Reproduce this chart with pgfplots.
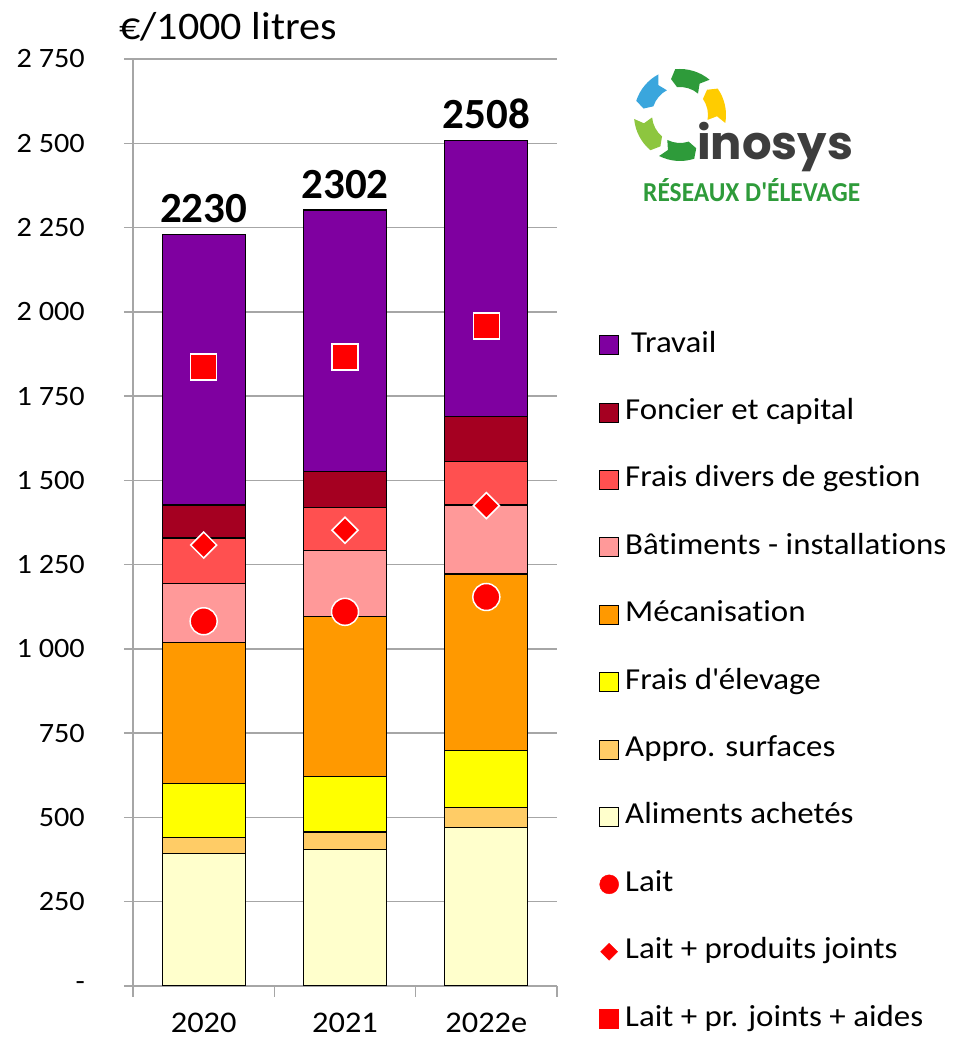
\documentclass[border=0pt]{standalone}
\usepackage{fontspec}
\setmainfont{Carlito}[FakeStretch=1.08, Ligatures=NoCommon]
\newfontfamily\totfont{Carlito}
\newfontfamily\logofont{Poppins}
\usepackage{pgfplots}
\pgfplotsset{compat=1.18}
\definecolor{cTrav}{HTML}{7F00A0}
\definecolor{cFonc}{HTML}{A50021}
\definecolor{cFrais}{HTML}{FF5050}
\definecolor{cBat}{HTML}{FF9999}
\definecolor{cMeca}{HTML}{FF9900}
\definecolor{cElev}{HTML}{FFFF00}
\definecolor{cAppro}{HTML}{FFCC66}
\definecolor{cAlim}{HTML}{FFFFCC}
\definecolor{cGrid}{HTML}{A6A6A6}
\definecolor{lBlue}{HTML}{3AA6DD}
\definecolor{lDkGreen}{HTML}{2E9B3A}
\definecolor{lYellow}{HTML}{FFCC00}
\definecolor{lLtGreen}{HTML}{8DC63F}
\definecolor{lGrey}{HTML}{3D3D3D}
\pgfplotsset{
  sqleg/.style={legend image code/.code={\draw[##1] (0pt,-9.5pt) rectangle (19pt,9.5pt);}},
  mkleg/.style={legend image code/.code={\draw[##1] plot coordinates {(9.5pt,0pt)};}},
  common/.style={
    at={(133pt,55pt)}, anchor=south west, scale only axis,
    width=424pt, height=927pt,
    xmin=-0.5, xmax=2.5, ymin=0, ymax=2750,
  },
}
\begin{document}
\begin{tikzpicture}
\useasboundingbox (0pt,0pt) rectangle (961pt,1041pt);
\begin{axis}[common,
  ybar stacked, bar width=83pt,
  axis x line*=bottom, axis y line*=left,
  axis line style={draw=cGrid, line width=1.5pt},
  ytick={0,250,...,2750},
  yticklabels={-,250,500,750,1 000,1 250,1 500,1 750,2 000,2 250,2 500,2 750},
  ymajorgrids, grid style={draw=cGrid, line width=1.5pt},
  xtick={0,1,2}, xticklabels={2020,2021,2022e},
  minor xtick={-0.5,0.5,1.5,2.5},
  tick align=outside, major tick length=9pt, minor tick length=11pt,
  tick style={draw=cGrid, line width=1.5pt},
  every major x tick/.append style={draw=none},
  yticklabel style={font=\fontsize{28}{32}\selectfont, inner sep=0pt, xshift=-39pt},
  xticklabel style={font=\fontsize{30}{34}\selectfont, inner sep=0pt, yshift=-18pt},
  every axis plot/.append style={draw=black, line width=1.2pt},
]
\addplot[fill=cAlim]  coordinates {(0,392) (1,406) (2,470)};
\addplot[fill=cAppro] coordinates {(0,49) (1,51) (2,59)};
\addplot[fill=cElev]  coordinates {(0,160) (1,165) (2,170)};
\addplot[fill=cMeca]  coordinates {(0,417) (1,474) (2,523)};
\addplot[fill=cBat]   coordinates {(0,177) (1,197) (2,205)};
\addplot[fill=cFrais] coordinates {(0,134) (1,126) (2,128)};
\addplot[fill=cFonc]  coordinates {(0,98) (1,107) (2,135)};
\addplot[fill=cTrav]  coordinates {(0,803) (1,776) (2,818)};
\end{axis}
\begin{axis}[common, axis lines=none, clip=false,
  legend style={at={(1.099,0.7077)}, anchor=north west, draw=none, fill=none,
    inner sep=0pt, row sep=37.4pt, column sep=4pt,
    font=\fontsize{30.5}{34}\selectfont,
    nodes={inner sep=2pt, text height=20pt, text depth=6pt}},
  legend cell align=left,
]
\addlegendimage{sqleg, fill=cTrav, draw=black, line width=1pt}
\addlegendimage{sqleg, fill=cFonc, draw=black, line width=1pt}
\addlegendimage{sqleg, fill=cFrais, draw=black, line width=1pt}
\addlegendimage{sqleg, fill=cBat, draw=black, line width=1pt}
\addlegendimage{sqleg, fill=cMeca, draw=black, line width=1pt}
\addlegendimage{sqleg, fill=cElev, draw=black, line width=1pt}
\addlegendimage{sqleg, fill=cAppro, draw=black, line width=1pt}
\addlegendimage{sqleg, fill=cAlim, draw=black, line width=1pt}
\addlegendimage{mkleg, only marks, mark=*, mark size=9.5pt, red}
\addlegendimage{mkleg, only marks, mark=square*, mark size=6pt, mark options={rotate=45}, red}
\addlegendimage{mkleg, only marks, mark=square*, mark size=9.5pt, red}
\addplot[forget plot, only marks, mark=*, mark size=13.5pt, mark options={fill=red, draw=white, line width=1.5pt}]
  coordinates {(0,1082) (1,1110) (2,1154)};
\addplot[forget plot, only marks, mark=square*, mark size=9.2pt, mark options={rotate=45, fill=red, draw=white, line width=1.5pt}]
  coordinates {(0,1308) (1,1352) (2,1425)};
\addplot[forget plot, only marks, mark=square*, mark size=13pt, mark options={fill=red, draw=white, line width=1.5pt}]
  coordinates {(0,1836) (1,1866) (2,1958)};
\addplot[forget plot, draw=none, mark=none, nodes near coords, point meta=explicit symbolic,
  nodes near coords style={anchor=base, yshift=12pt, fill=white, inner sep=2pt,
    font=\fontsize{43}{48}\totfont\bfseries}]
  coordinates {(0,2230)[2230] (1,2302)[2302] (2,2508)[2508]};
\legend{{\hspace{6pt}Travail},Foncier et capital,Frais divers de gestion,B\^atiments - installations,M\'ecanisation,Frais d\textquotesingle\'elevage,Appro. surfaces,Aliments achet\'es,Lait,Lait + produits joints,Lait + pr. joints + aides}
\end{axis}
\node[anchor=base west, inner sep=0pt, font=\fontsize{39}{42}\selectfont] at (119pt,1001pt) {€/1000 litres};
% logo
\begin{scope}[shift={(680pt,926pt)}]
  \fill[lBlue] (118:46pt) arc (118:162:46pt) -- (170:37pt) -- (162:28pt) arc (162:118:28pt) -- (126:37pt) -- cycle;
  \fill[lDkGreen] (50:46pt) arc (50:96:46pt) -- (104:37pt) -- (96:28pt) arc (96:50:28pt) -- (58:37pt) -- cycle;
  \fill[lYellow] (-10:46pt) arc (-10:35:46pt) -- (43:37pt) -- (35:28pt) arc (35:-10:28pt) -- (-2:37pt) -- cycle;
  \fill[lLtGreen] (185:46pt) arc (185:230:46pt) -- (238:37pt) -- (230:28pt) arc (230:185:28pt) -- (193:37pt) -- cycle;
  \fill[lDkGreen] (243:46pt) arc (243:288:46pt) -- (296:37pt) -- (288:28pt) arc (288:243:28pt) -- (251:37pt) -- cycle;
\end{scope}
\node[anchor=base west, inner sep=0pt, text=lGrey] at (697pt,881pt) {\resizebox{156pt}{!}{\logofont\bfseries inosys}};
\node[anchor=base west, inner sep=0pt, text=lDkGreen] at (643pt,839pt) {\resizebox{217pt}{23pt}{\totfont\bfseries R\'ESEAUX D\textquotesingle\'ELEVAGE}};
\end{tikzpicture}
\end{document}
